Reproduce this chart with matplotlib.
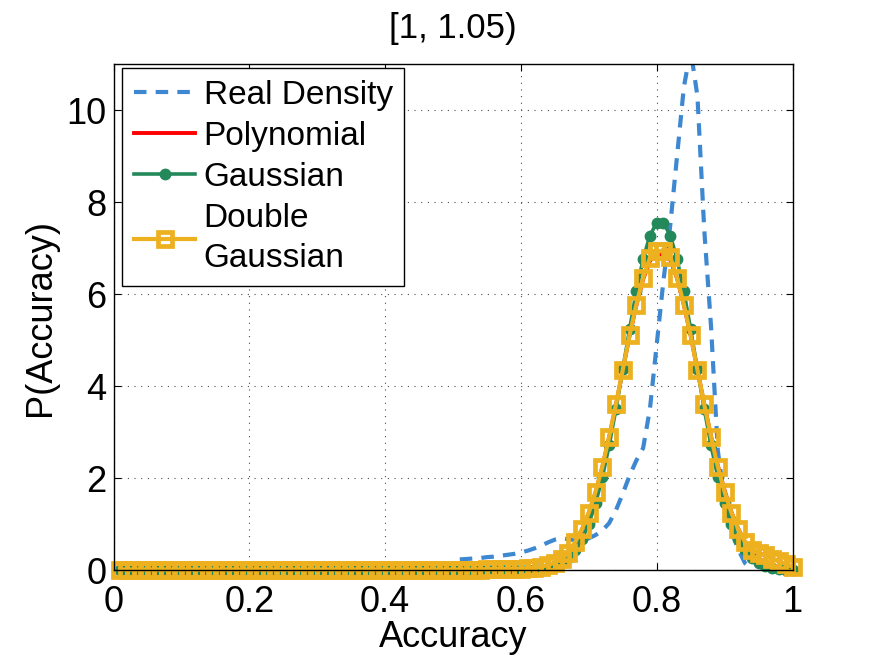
import numpy as np
import matplotlib.pyplot as plt

plt.rcParams['font.family'] = ['Liberation Sans', 'DejaVu Sans']

# sample grid (0.01 .. 1.00)
accuracy = [round(0.01 * i, 2) for i in range(1, 101)]

# real density (kernel estimate), only defined from 0.51 upward
real_x = [0.51, 0.52, 0.53, 0.54, 0.55, 0.56, 0.57, 0.58, 0.59, 0.60,
          0.61, 0.62, 0.63, 0.64, 0.65, 0.66, 0.67, 0.68, 0.69, 0.70,
          0.71, 0.72, 0.73, 0.74, 0.75, 0.76, 0.77, 0.78, 0.79, 0.80,
          0.81, 0.82, 0.83, 0.84, 0.85, 0.86, 0.87, 0.88, 0.89, 0.90,
          0.91, 0.92, 0.93, 0.94]
real_density = [0.23, 0.24, 0.25, 0.26, 0.28, 0.29, 0.31, 0.33, 0.35, 0.38,
                0.42, 0.47, 0.53, 0.60, 0.66, 0.69, 0.67, 0.65, 0.65, 0.69,
                0.76, 0.86, 1.02, 1.30, 1.66, 2.05, 2.38, 2.65, 3.50, 4.90,
                6.30, 7.50, 9.00, 10.50, 11.30, 10.30, 7.40, 5.30, 2.60, 1.50,
                0.85, 0.45, 0.15, 0.03]

# values 0.01..0.50
flat_tail = [0.0] * 50

polynomial = [0.01] * 50 + [
    0.01, 0.01, 0.01, 0.01, 0.02, 0.02, 0.02, 0.02, 0.03, 0.03,   # 0.51-0.60
    0.04, 0.05, 0.07, 0.10, 0.15, 0.23, 0.37, 0.60, 0.88, 1.24,   # 0.61-0.70
    1.69, 2.24, 2.89, 3.59, 4.34, 5.09, 5.75, 6.32, 6.72, 6.86,   # 0.71-0.80
    6.86, 6.74, 6.34, 5.76, 5.10, 4.35, 3.61, 2.91, 2.27, 1.73,   # 0.81-0.90
    1.26, 0.90, 0.61, 0.43, 0.37, 0.32, 0.25, 0.19, 0.13, 0.07,   # 0.91-1.00
]

gaussian = flat_tail + [
    0.0, 0.0, 0.0, 0.0, 0.0, 0.0, 0.0, 0.0, 0.0, 0.0,             # 0.51-0.60
    0.01, 0.01, 0.03, 0.05, 0.09, 0.16, 0.27, 0.43, 0.67, 1.01,   # 0.61-0.70
    1.45, 2.02, 2.71, 3.50, 4.36, 5.23, 6.06, 6.76, 7.27, 7.55,   # 0.71-0.80
    7.55, 7.27, 6.76, 6.06, 5.23, 4.36, 3.50, 2.71, 2.02, 1.45,   # 0.81-0.90
    1.01, 0.67, 0.43, 0.27, 0.16, 0.09, 0.05, 0.03, 0.01, 0.01,   # 0.91-1.00
]

double_gaussian = [0.01] * 50 + [
    0.01, 0.01, 0.01, 0.01, 0.02, 0.02, 0.02, 0.02, 0.03, 0.03,   # 0.51-0.60
    0.04, 0.05, 0.07, 0.11, 0.16, 0.24, 0.38, 0.61, 0.89, 1.25,   # 0.61-0.70
    1.70, 2.25, 2.90, 3.60, 4.35, 5.10, 5.77, 6.35, 6.78, 6.93,   # 0.71-0.80
    6.93, 6.80, 6.35, 5.77, 5.10, 4.35, 3.60, 2.90, 2.25, 1.70,   # 0.81-0.90
    1.25, 0.89, 0.61, 0.43, 0.37, 0.32, 0.25, 0.19, 0.13, 0.07,   # 0.91-1.00
]

title = '[1, 1.05)'

BLUE = '#3d88d0'
RED = '#ff0000'
GREEN = '#24895a'
YELLOW = '#edb120'

fig = plt.figure(figsize=(8.75, 6.59), dpi=100)
ax = fig.add_axes([113.5 / 875, 1 - 570 / 659, 679 / 875, 506 / 659])

ax.plot(real_x, real_density, color=BLUE, lw=3.0, dashes=(3.0, 2.2),
        label='Real Density')
ax.plot(accuracy, polynomial, color=RED, lw=2.8, label='Polynomial',
        clip_on=False)
ax.plot(accuracy, gaussian, color=GREEN, lw=2.6, marker='o', ms=7.5,
        label='Gaussian', clip_on=False)
ax.plot(accuracy, double_gaussian, color=YELLOW, lw=3.0, marker='s', ms=9.5,
        mfc='none', mew=3.4, label='Double\nGaussian', clip_on=False)

ax.set_xlim(0, 1)
ax.set_ylim(0, 11)
ax.set_xticks([0, 0.2, 0.4, 0.6, 0.8, 1])
ax.set_xticklabels(['0', '0.2', '0.4', '0.6', '0.8', '1'])
ax.set_yticks([0, 2, 4, 6, 8, 10])
ax.tick_params(direction='in', top=True, right=True, length=5, width=0.8,
               labelsize=26)
ax.tick_params(axis='x', pad=11)
ax.tick_params(axis='y', pad=5)
ax.grid(True, color='0.3', lw=0.8, ls=(0, (1, 5)))
for s in ax.spines.values():
    s.set_linewidth(1.0)

ax.set_xlabel('Accuracy', fontsize=26, labelpad=0)
ax.set_ylabel('P(Accuracy)', fontsize=26, labelpad=6)
ax.set_title(title, fontsize=25, pad=19,
             family=['Liberation Sans Narrow', 'Liberation Sans'])

leg = ax.legend(loc='upper left', bbox_to_anchor=(8.5 / 679, 1 - 4 / 506),
                borderaxespad=0, fontsize=24, handlelength=1.85,
                handletextpad=0.25, borderpad=0.35, labelspacing=0.3,
                fancybox=False, framealpha=1, edgecolor='black')
leg.get_frame().set_linewidth(1.0)
for t in leg.get_texts():
    t.set_linespacing(1.4)

fig.savefig('out.png', dpi=100)
